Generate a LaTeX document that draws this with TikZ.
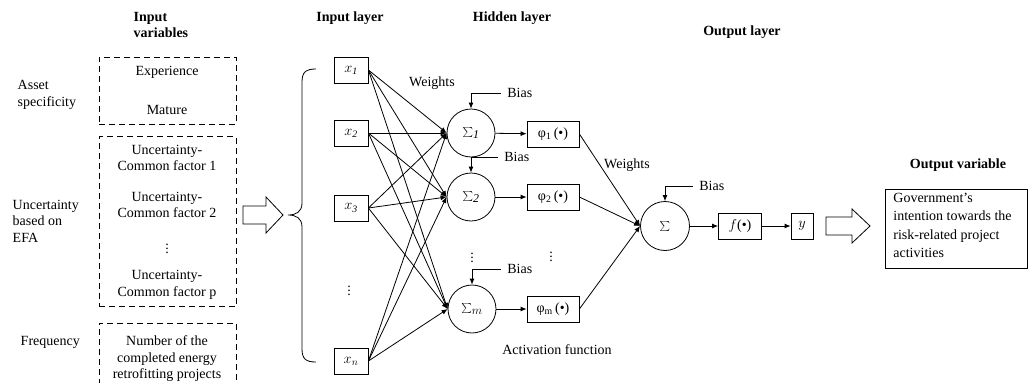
\documentclass[tikz,border=0pt]{standalone}
\usepackage{fontspec}
\setmainfont{Liberation Serif}
\usetikzlibrary{positioning,arrows.meta}

\begin{document}
\begin{tikzpicture}[x=1pt,y=-1pt,line width=0.8pt,
    font=\fontsize{14}{16.5}\selectfont,
    >={Latex[length=6pt,width=5pt]},
    title/.style={font=\fontsize{14}{16.5}\selectfont\bfseries},
    dashbox/.style={draw,dash pattern=on 6pt off 4pt,minimum width=137pt,inner sep=0pt},
    inbox/.style={draw,minimum width=34pt,minimum height=26pt,inner sep=0pt},
    neuron/.style={draw,circle,minimum size=48pt,inner sep=0pt,font=\fontsize{17}{19}\selectfont},
    actbox/.style={draw,minimum width=52pt,minimum height=26pt,inner sep=0pt},
    dots/.style={inner sep=0pt}]
    \useasboundingbox (0,0) rectangle (1029,383);

    \node[title,align=left,anchor=west] (tVars) at (130,25) {Input\\variables};
    \node[title] (tIn) at (350,18) {Input layer};
    \node[title] (tHid) at (512,18) {Hidden layer};
    \node[title] (tOut) at (742,32) {Output layer};
    \node[title] (tRes) at (958,165) {Output variable};

    \node[align=left,anchor=west] (lAsset) at (14,95) {Asset\\specificity};
    \node[align=left,anchor=west] (lUnc) at (9,221) {Uncertainty\\based on\\EFA};
    \node[anchor=west] (lFreq) at (17,342) {Frequency};

    \node[dashbox,minimum height=67pt] (gAsset) at (167.5,90.5) {};
    \node[dashbox,minimum height=170pt] (gUnc) at (167.5,221.5) {};
    \node[dashbox,minimum height=80pt] (gFreq) at (167.5,363) {};
    \node (vExp) at (167,72) {Experience};
    \node (vMat) at (167,110) {Mature};
    \node[align=center] (vU1) at (167,158) {Uncertainty-\\Common factor 1};
    \node[align=center] (vU2) at (167,205) {Uncertainty-\\Common factor 2};
    \node[dots] (vDots) at (167,246) {$\vdots$};
    \node[align=center] (vUp) at (167,285) {Uncertainty-\\Common factor p};
    \node[align=center] (vNum) at (167,359) {Number of the\\completed energy\\retrofitting projects};

    \draw (243,206) -- (266,206) -- (266,197) -- (283,215) -- (266,233) -- (266,224) -- (243,224) -- cycle;
    \draw (316,69) .. controls (306,69) and (302,72) .. (302,82) -- (302,203)
      .. controls (302,212) and (296,215) .. (288,215)
      .. controls (296,215) and (302,218) .. (302,227) -- (302,349)
      .. controls (302,359) and (306,362) .. (316,362);

    \node[inbox] (x1) at (351,70) {$x_{\mathit{1}}$};
    \node[inbox] (x2) at (351,133) {$x_{\mathit{2}}$};
    \node[inbox] (x3) at (351,208) {$x_{\mathit{3}}$};
    \node[dots] (xDots) at (349,288) {$\vdots$};
    \node[inbox] (xn) at (351,361) {$x_n$};

    \node[neuron] (s1) at (471,133) {$\textstyle\sum_{\mathit{1}}$};
    \node[neuron] (s2) at (471,197) {$\textstyle\sum_{\mathit{2}}$};
    \node[dots] (sDots) at (472,255) {$\vdots$};
    \node[neuron] (sm) at (472,309) {$\textstyle\sum_m$};

    \node[actbox] (p1) at (553,134) {φ\textsubscript{1}\,(•)};
    \node[actbox] (p2) at (553,197) {φ\textsubscript{2}\,(•)};
    \node[dots] (pDots) at (551,254) {$\vdots$};
    \node[actbox] (pm) at (553,309) {φ\textsubscript{m}\,(•)};

    \node[neuron,minimum size=49pt] (so) at (665,226) {$\textstyle\sum$};
    \node[draw,minimum width=43pt,minimum height=26pt,inner sep=0pt] (fo) at (740,226) {$f$(•)};
    \node[draw,minimum width=22pt,minimum height=26pt,inner sep=0pt] (yo) at (802,226) {$y$};
    \draw (826,217) -- (852,217) -- (852,209) -- (870,226) -- (852,243) -- (852,235) -- (826,235) -- cycle;
    \node[draw,minimum width=142pt,minimum height=79pt,inner sep=0pt] (res) at (956,228.5) {};
    \node[align=left,anchor=north west,font=\fontsize{14}{18.2}\selectfont,inner sep=0pt] (resTxt) at (893,193)
      {Government’s\\intention towards the\\risk-related project\\activities};

    \node (w1) at (432,83) {Weights};
    \node (w2) at (627,165) {Weights};
    \node (act) at (557,350) {Activation function};

    \coordinate (b1) at (501,93);
    \coordinate (b2) at (498,157);
    \coordinate (bm) at (501,269);
    \coordinate (bo) at (693,186);
    \foreach \b/\s in {b1/s1,b2/s2,bm/sm,bo/so}{
      \node[anchor=west,inner sep=0pt] at ([xshift=6pt]\b) {Bias};
      \draw[->] (\b) -| (\s);
    }

    \foreach \i in {x1,x2,x3,xn}
      \foreach \j in {s1,s2,sm}
        \draw[->] (\i.east) -- (\j.west);
    \foreach \j/\k in {s1/p1,s2/p2,sm/pm}{
      \draw[->] (\j) -- (\k);
      \draw[->] (\k.east) -- (so.west);
    }
    \draw[->] (so) -- (fo);
    \draw[->] (fo) -- (yo);
  \end{tikzpicture}
\end{document}
